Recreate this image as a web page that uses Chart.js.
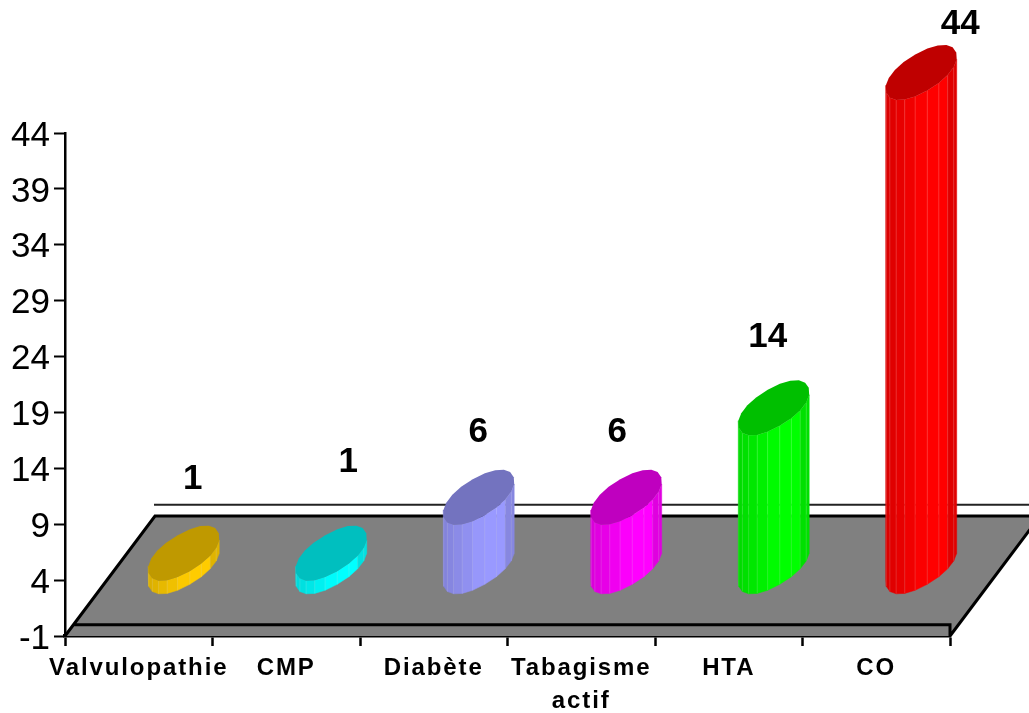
<!DOCTYPE html>
<html>
<head>
<meta charset="utf-8">
<title>Facteurs de risque</title>
<script src="https://cdn.jsdelivr.net/npm/chart.js@4/dist/chart.umd.min.js"></script>
<style>
  html, body { margin: 0; padding: 0; background: #fff; }
  canvas { display: block; }
</style>
</head>
<body>
<canvas id="myChart" width="1029" height="713"></canvas>
<script>
// Données
const categories = ["Valvulopathie", "CMP", "Diabète", ["Tabagisme", "actif"], "HTA", "CO"];
const values = [1, 1, 6, 6, 14, 44];
const yTicks = [-1, 4, 9, 14, 19, 24, 29, 34, 39, 44];
const sideColors = [[255, 204, 0], [0, 255, 255], [153, 153, 255], [255, 0, 255], [0, 255, 0], [255, 0, 0]];

// Décalage manuel des étiquettes par rapport au pied de la colonne
const labelShift = [[54, -134], [62, -151], [44.5, -125], [36, -125], [39, -131], [84, -109]];

// Perspective du sol et des colonnes
const floorDepth = { x: 90, y: -120 };
const barOffset = { x: 45, y: -60.5 };
// Dessus de colonne : grand axe (mx, my), petit axe (nx, ny), contour un peu carré
const ellipse = { mx: 35, my: -20, nx: -6, ny: -18, power: 0.92, steps: 20 };

function rgb(c, f) {
    return "rgb(" + Math.round(c[0] * f) + "," + Math.round(c[1] * f) + "," + Math.round(c[2] * f) + ")";
}

function ellipsePoint(cx, cy, t) {
    const c = Math.cos(t);
    const s = Math.sin(t);
    const u = Math.sign(c) * Math.pow(Math.abs(c), ellipse.power);
    const v = Math.sign(s) * Math.pow(Math.abs(s), ellipse.power);
    return {
        x: cx + ellipse.mx * u + ellipse.nx * v,
        y: cy + ellipse.my * u + ellipse.ny * v
    };
}

function drawCylinder(ctx, bar, color) {
    const cx = bar.x + barOffset.x;
    const top = bar.y + barOffset.y;
    const bottom = bar.base + barOffset.y + 2;
    const n = ellipse.steps;
    const h = bottom - top;

    // Contour complet, parcouru par le bas de gauche à droite
    const pts = [];
    for (let i = 0; i < n; i++) {
        pts.push(ellipsePoint(cx, top, i * 2 * Math.PI / n));
    }
    let first = 0;
    let last = 0;
    pts.forEach(function (p, i) {
        if (p.x < pts[first].x) first = i;
        if (p.x > pts[last].x) last = i;
    });
    const xMin = pts[first].x;
    const xMax = pts[last].x;

    // Faces latérales
    for (let i = first; i % n !== last; i++) {
        const a = pts[i % n];
        const b = pts[(i + 1) % n];
        const u = ((a.x + b.x) / 2 - xMin) / (xMax - xMin);
        let shade = 1;
        if (u < 0.55) shade = 0.85 + 0.15 * u / 0.55;
        if (u > 0.82) shade = 0.88;
        ctx.fillStyle = rgb(color, shade);
        ctx.strokeStyle = rgb(color, shade);
        ctx.lineWidth = 0.5;
        ctx.beginPath();
        ctx.moveTo(a.x, a.y);
        ctx.lineTo(b.x, b.y);
        ctx.lineTo(b.x, b.y + h);
        ctx.lineTo(a.x, a.y + h);
        ctx.closePath();
        ctx.fill();
        ctx.stroke();
        // Petit trait clair entre les facettes
        if (i !== first) {
            ctx.strokeStyle = "rgba(255,255,255,0.14)";
            ctx.lineWidth = 1;
            ctx.beginPath();
            ctx.moveTo(a.x, a.y);
            ctx.lineTo(a.x, a.y + h);
            ctx.stroke();
        }
    }

    // Dessus de la colonne
    ctx.fillStyle = rgb(color, 0.75);
    ctx.beginPath();
    pts.forEach(function (p, i) {
        if (i === 0) ctx.moveTo(p.x, p.y);
        else ctx.lineTo(p.x, p.y);
    });
    ctx.closePath();
    ctx.fill();
}

const floorAndBars = {
    id: "floorAndBars",
    beforeDraw(chart) {
        chart.ctx.letterSpacing = "0px";
    },
    beforeDatasetsDraw(chart) {
        const ctx = chart.ctx;
        const xs = chart.scales.x;
        const ys = chart.scales.y;
        const low = ys.getPixelForValue(-1);
        const zero = ys.getPixelForValue(0);
        const dx = floorDepth.x;
        const dy = floorDepth.y;

        ctx.save();
        // Sol gris
        ctx.fillStyle = "#808080";
        ctx.beginPath();
        ctx.moveTo(xs.left, low);
        ctx.lineTo(xs.left + dx, low + dy);
        ctx.lineTo(xs.right + dx, low + dy);
        ctx.lineTo(xs.right, low);
        ctx.closePath();
        ctx.fill();

        ctx.strokeStyle = "#000";
        ctx.lineWidth = 3;
        ctx.beginPath();
        // Bord gauche, arrière et droit du sol
        ctx.moveTo(xs.left, low);
        ctx.lineTo(xs.left + dx, low + dy);
        ctx.lineTo(xs.right + dx, low + dy);
        ctx.lineTo(xs.right, low);
        // Arête avant, au niveau zéro
        ctx.moveTo(xs.left + 7.5, zero);
        ctx.lineTo(xs.right, zero);
        ctx.lineTo(xs.right, low);
        ctx.stroke();

        // Trait arrière, au niveau zéro
        ctx.strokeStyle = "#222";
        ctx.lineWidth = 2;
        ctx.beginPath();
        ctx.moveTo(xs.left + dx - 1, zero + dy);
        ctx.lineTo(xs.right + dx, zero + dy);
        ctx.stroke();
        ctx.restore();
    },
    afterDatasetsDraw(chart) {
        const ctx = chart.ctx;
        const bars = chart.getDatasetMeta(0).data;
        ctx.save();
        bars.forEach(function (bar, i) {
            drawCylinder(ctx, bar, sideColors[i]);
        });
        // Étiquettes de valeur
        ctx.fillStyle = "#000";
        ctx.font = "bold 35px 'Liberation Sans'";
        ctx.textAlign = "center";
        ctx.textBaseline = "middle";
        bars.forEach(function (bar, i) {
            ctx.fillText(String(values[i]), bar.x + labelShift[i][0], bar.y + labelShift[i][1]);
        });
        ctx.restore();
        // Les libellés de l'axe x sont dessinés juste après (z = 1), avec un texte espacé
        ctx.letterSpacing = "1.9px";
    }
};

new Chart(document.getElementById("myChart"), {
    type: "bar",
    data: {
        labels: categories,
        datasets: [{
            data: values,
            backgroundColor: "rgba(0,0,0,0)",
            barPercentage: 0.37,
            categoryPercentage: 1
        }]
    },
    plugins: [floorAndBars],
    options: {
        responsive: false,
        animation: false,
        layout: { padding: { top: 133, right: 79, left: 0, bottom: 0 } },
        plugins: { legend: { display: false }, tooltip: { enabled: false } },
        scales: {
            x: {
                afterFit(scale) { scale.height = 77; },
                grid: { drawOnChartArea: false, tickLength: 10, tickColor: "#000", tickWidth: 2.5 },
                border: { color: "#000", width: 3.5 },
                ticks: {
                    z: 1,
                    color: "#000",
                    autoSkip: false,
                    maxRotation: 0,
                    padding: 6,
                    font: { family: "'Liberation Sans'", size: 24, weight: "bold", lineHeight: 1.375 }
                }
            },
            y: {
                min: -1,
                max: 44,
                afterFit(scale) { scale.width = 65; },
                afterBuildTicks(scale) {
                    scale.ticks = yTicks.map(function (v) { return { value: v }; });
                },
                grid: { drawOnChartArea: false, tickLength: 11, tickColor: "#000", tickWidth: 2 },
                border: { color: "#000", width: 2.5 },
                ticks: {
                    color: "#000",
                    padding: 4,
                    labelOffset: 3,
                    font: { family: "'Liberation Sans'", size: 35 }
                }
            }
        }
    }
});
</script>
</body>
</html>
